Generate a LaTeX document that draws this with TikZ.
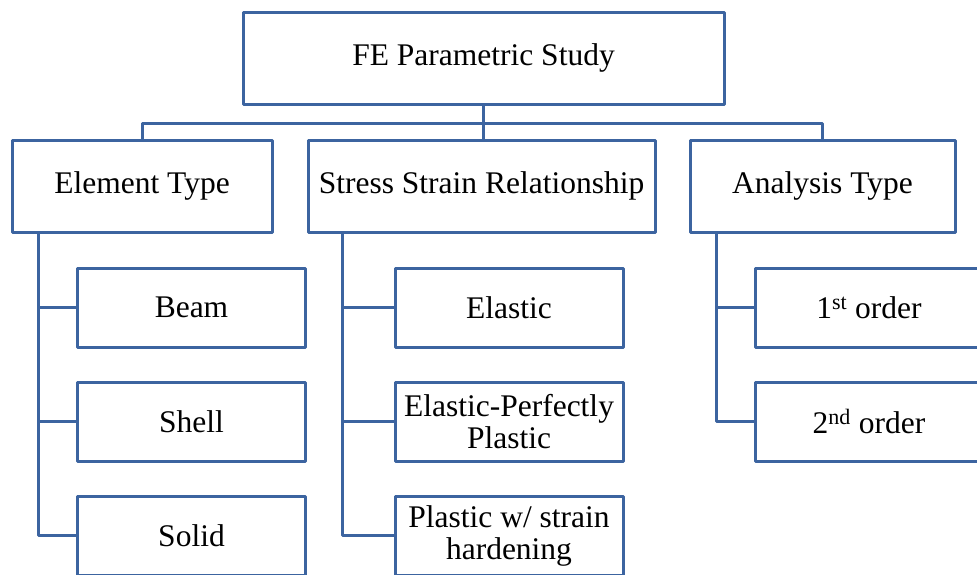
\documentclass[tikz,border=0pt]{standalone}
\usepackage{fontspec}
\setmainfont{Liberation Serif}
\definecolor{boxblue}{RGB}{60,100,160}
\begin{document}
\begin{tikzpicture}[x=1pt,y=-1pt,
  box/.style={draw=boxblue, line width=3pt, fill=white, line join=round, inner sep=0pt,
    align=center, font=\fontsize{31.5}{32}\selectfont},
  lvl/.style={box, minimum height=92pt},
  leaf/.style={box, minimum width=228pt, minimum height=79pt},
  conn/.style={draw=boxblue, line width=3pt, line join=round}]
\useasboundingbox (0,0) rectangle (977,574);
\clip (0,0) rectangle (977,574);
\fill[white] (0,0) rectangle (977,574);
\coordinate (bar) at (483,123);
\node[lvl, minimum width=481pt] (top) at (483.5,58) {FE Parametric Study};
\node[lvl, minimum width=260pt] (et) at (142,186) {Element Type};
\node[lvl, minimum width=347pt] (ss) at (481.5,186) {Stress Strain Relationship};
\node[lvl, minimum width=265pt] (at) at (822.5,186) {Analysis Type};
\draw[conn] (top.south -| bar) -- (bar);
\draw[conn] (bar) -| (et.north);
\draw[conn] (bar) -| (at.north);
\draw[conn] (bar) -- (bar |- ss.north);
\node[leaf] (beam) at (191.5,307.5) {Beam};
\node[leaf] (shell) at (191.5,421.5) {Shell};
\node[leaf] (solid) at (191.5,535.5) {Solid};
\node[leaf] (el) at (509,307.5) {Elastic};
\node[leaf] (epp) at (509,421.5) {Elastic-Perfectly\\Plastic};
\node[leaf] (pwh) at (509,535.5) {Plastic w/ strain\\hardening};
\node[leaf] (o1) at (869,307.5) {1\textsuperscript{st} order};
\node[leaf] (o2) at (869,421.5) {2\textsuperscript{nd} order};
\coordinate (etb) at ([xshift=28pt]et.south west);
\coordinate (ssb) at ([xshift=36pt]ss.south west);
\coordinate (atb) at ([xshift=28pt]at.south west);
\draw[conn] (etb) |- (beam.west);
\draw[conn] (etb) |- (shell.west);
\draw[conn] (etb) |- (solid.west);
\draw[conn] (ssb) |- (el.west);
\draw[conn] (ssb) |- (epp.west);
\draw[conn] (ssb) |- (pwh.west);
\draw[conn] (atb) |- (o1.west);
\draw[conn] (atb) |- (o2.west);
\end{tikzpicture}
\end{document}
